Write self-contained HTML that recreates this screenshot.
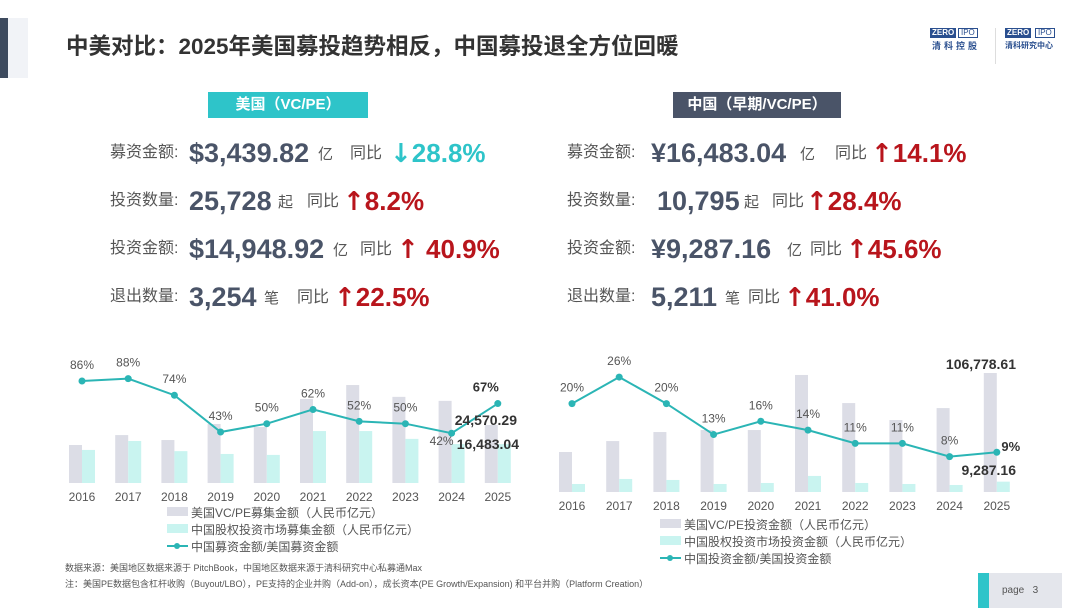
<!DOCTYPE html>
<html><head><meta charset="utf-8">
<style>
body{margin:0;background:#fff;}
#root{position:relative;width:1080px;height:608px;overflow:hidden;background:#fff;font-family:"Liberation Sans","Noto Sans CJK SC",sans-serif;}
.a{position:absolute;white-space:nowrap;line-height:1;}
.lbl{font-size:16px;color:#555;}
.num{font-size:27px;font-weight:bold;color:#4a5468;}
.unit{font-size:15px;color:#555;}
.yoy{font-size:16px;color:#555;}
.up{font-size:26px;font-weight:bold;color:#b8151c;}
.dn{font-size:26px;font-weight:bold;color:#2ec4c9;}
.ar{font-family:"DejaVu Sans",sans-serif;font-weight:bold;}
</style></head><body>
<div id="root">
<div class="a" style="left:0;top:18px;width:8px;height:60px;background:#3d4a5e"></div>
<div class="a" style="left:8px;top:18px;width:20px;height:60px;background:#f1f3f7"></div>
<div class="a" style="left:66px;top:36px;font-size:22.5px;font-weight:bold;color:#333">中美对比：2025年美国募投趋势相反，中国募投退全方位回暖</div>
<div class="a" style="left:930px;top:28px;width:52px;height:38px">
 <div class="a" style="left:0;top:0;background:#2a4f8f;color:#fff;font-size:8px;font-weight:bold;padding:1px 2px">ZERO</div>
 <div class="a" style="left:28px;top:0;border:1px solid #2a4f8f;color:#2a4f8f;font-size:8px;padding:0 2px">IPO</div>
 <div class="a" style="left:2px;top:14px;font-size:9px;font-weight:bold;color:#2a4f8f;letter-spacing:3px">清科控股</div>
</div>
<div class="a" style="left:995px;top:28px;width:1px;height:36px;background:#ddd"></div>
<div class="a" style="left:1005px;top:28px;width:60px;height:38px">
 <div class="a" style="left:0;top:0;background:#2a4f8f;color:#fff;font-size:8px;font-weight:bold;padding:1px 2px">ZERO</div>
 <div class="a" style="left:30px;top:0;border:1px solid #2a4f8f;color:#2a4f8f;font-size:8px;padding:0 2px">IPO</div>
 <div class="a" style="left:0;top:14px;font-size:8px;font-weight:bold;color:#2a4f8f">清科研究中心</div>
</div>

<div class="a" style="left:208px;top:92px;width:160px;height:26px;background:#2ec4c9;color:#fff;font-size:15px;font-weight:bold;line-height:26px;text-align:center">美国（VC/PE）</div>
<div class="a" style="left:673px;top:92px;width:168px;height:26px;background:#4a5468;color:#fff;font-size:15px;font-weight:bold;line-height:26px;text-align:center">中国（早期/VC/PE）</div>

<!-- US stats -->
<div>
<span class="a lbl" style="left:110px;top:145px">募资金额:</span><span class="a num" style="left:189px;top:140px">$3,439.82</span><span class="a unit" style="left:318px;top:147px">亿</span><span class="a yoy" style="left:350px;top:146px">同比</span><span class="a dn" style="left:390px;top:140px"><span class="ar">↓</span>28.8%</span></div>
<div>
<span class="a lbl" style="left:110px;top:193px">投资数量:</span><span class="a num" style="left:189px;top:188px">25,728</span><span class="a unit" style="left:278px;top:195px">起</span><span class="a yoy" style="left:307px;top:194px">同比</span><span class="a up" style="left:343px;top:188px"><span class="ar">↑</span>8.2%</span></div>
<div>
<span class="a lbl" style="left:110px;top:241px">投资金额:</span><span class="a num" style="left:189px;top:236px">$14,948.92</span><span class="a unit" style="left:333px;top:243px">亿</span><span class="a yoy" style="left:360px;top:242px">同比</span><span class="a up" style="left:397px;top:236px"><span class="ar">↑</span> 40.9%</span></div>
<div>
<span class="a lbl" style="left:110px;top:289px">退出数量:</span><span class="a num" style="left:189px;top:284px">3,254</span><span class="a unit" style="left:264px;top:291px">笔</span><span class="a yoy" style="left:297px;top:290px">同比</span><span class="a up" style="left:334px;top:284px"><span class="ar">↑</span>22.5%</span></div>

<!-- China stats -->
<div>
<span class="a lbl" style="left:567px;top:145px">募资金额:</span><span class="a num" style="left:651px;top:140px">¥16,483.04</span><span class="a unit" style="left:800px;top:147px">亿</span><span class="a yoy" style="left:835px;top:146px">同比</span><span class="a up" style="left:871px;top:140px"><span class="ar">↑</span>14.1%</span></div>
<div>
<span class="a lbl" style="left:567px;top:193px">投资数量:</span><span class="a num" style="left:657px;top:188px">10,795</span><span class="a unit" style="left:744px;top:195px">起</span><span class="a yoy" style="left:772px;top:194px">同比</span><span class="a up" style="left:806px;top:188px"><span class="ar">↑</span>28.4%</span></div>
<div>
<span class="a lbl" style="left:567px;top:241px">投资金额:</span><span class="a num" style="left:651px;top:236px">¥9,287.16</span><span class="a unit" style="left:787px;top:243px">亿</span><span class="a yoy" style="left:810px;top:242px">同比</span><span class="a up" style="left:846px;top:236px"><span class="ar">↑</span>45.6%</span></div>
<div>
<span class="a lbl" style="left:567px;top:289px">退出数量:</span><span class="a num" style="left:651px;top:284px">5,211</span><span class="a unit" style="left:725px;top:291px">笔</span><span class="a yoy" style="left:748px;top:290px">同比</span><span class="a up" style="left:784px;top:284px"><span class="ar">↑</span>41.0%</span></div>

<svg id="charts" class="a" style="left:0;top:0" width="1080" height="608"></svg>

<div class="a" style="left:65px;top:564px;font-size:9px;color:#555">数据来源：美国地区数据来源于 PitchBook，中国地区数据来源于清科研究中心私募通Max</div>
<div class="a" style="left:65px;top:580px;font-size:9px;color:#555">注：美国PE数据包含杠杆收购（Buyout/LBO），PE支持的企业并购（Add-on），成长资本(PE Growth/Expansion) 和平台并购（Platform Creation）</div>
<div class="a" style="left:978px;top:573px;width:84px;height:35px;background:#e4e6ec">
 <div class="a" style="left:0;top:0;width:11px;height:35px;background:#2ec4c9"></div>
 <div class="a" style="left:24px;top:13px;font-size:10px;color:#555">page &nbsp; 3</div>
</div>
</div>
<script>
const years=["2016","2017","2018","2019","2020","2021","2022","2023","2024","2025"];
const usFund=[16100,20300,18200,25000,23700,35600,41500,36500,34800,24570.29];
const cnFund=[14000,17800,13500,12300,11900,22000,22000,18700,16500,16483.04];
const fundRatio=[86,88,74,43,50,62,52,50,42,67];
const usInv=[35900,45700,53800,55600,55600,105000,79800,64600,75300,106778.61];
const cnInv=[7200,11700,10800,7200,8100,14400,8100,7200,6300,9287.16];
const invRatio=[20,26,20,13,16,14,11,11,8,9];

const NS="http://www.w3.org/2000/svg";
const svg=document.getElementById('charts');
function mk(tag,at,txt){const e=document.createElementNS(NS,tag);for(const k in at)e.setAttribute(k,at[k]);if(txt!==undefined)e.textContent=txt;svg.appendChild(e);return e;}
const F='"Liberation Sans","Noto Sans CJK SC",sans-serif';

function chart(o){
  const x=i=>o.x0+i*o.step;
  const yb=v=>o.base-v*o.barK;
  const yl=v=>o.base-v*o.lineK;
  years.forEach((yr,i)=>{
    let r=mk('rect',{x:x(i)-o.bw,y:yb(o.us[i]),width:o.bw,height:o.base-yb(o.us[i]),fill:'#dcdde6'});
    
    
    r=mk('rect',{x:x(i),y:yb(o.cn[i]),width:o.bw,height:o.base-yb(o.cn[i]),fill:'#c9f4f0'});
    
    
    const t=mk('text',{x:x(i),y:o.base+18,'text-anchor':'middle','font-size':12,fill:'#555','font-family':F},yr);
    
    
  });
  const p=mk('polyline',{points:o.ratio.map((v,i)=>x(i)+','+yl(v)).join(' '),fill:'none',stroke:'#2bb5b5','stroke-width':2});
  
  
  o.ratio.forEach((v,i)=>{
    const c=mk('circle',{cx:x(i),cy:yl(v),r:3.5,fill:'#2bb5b5'});
    
    
    const last=i===o.ratio.length-1;
    const dy=o.lblDy[i];
    const t=mk('text',{x:x(i)+(o.lblDx[i]||0),y:yl(v)+dy,'text-anchor':'middle','font-size':last?13:12,'font-weight':last?'bold':'normal',fill:last?'#333':'#555','font-family':F},v+'%');
    
    
  });
  o.extra.forEach(e=>{
    const t=mk('text',{x:e[0],y:e[1],'font-size':14,'font-weight':'bold',fill:'#333','text-anchor':'end','font-family':F},e[2]);
    
    
  });
  const L=o.leg;
  let r=mk('rect',{x:L.x,y:L.y-6,width:21,height:9,fill:'#dcdde6'});
  
  r=mk('rect',{x:L.x,y:L.y+L.dy-6,width:21,height:9,fill:'#c9f4f0'});
  
  let ln=mk('line',{x1:L.x,x2:L.x+21,y1:L.y+2*L.dy-1,y2:L.y+2*L.dy-1,stroke:'#2bb5b5','stroke-width':2});
  
  let c=mk('circle',{cx:L.x+10,cy:L.y+2*L.dy-1,r:3,fill:'#2bb5b5'});
  
  L.t.forEach((s,k)=>{const t=mk('text',{x:L.x+24,y:L.y+k*L.dy+4,'font-size':12,fill:'#555','font-family':F},s);
    
    });
}
chart({x0:82,step:46.2,bw:13,base:483,barK:58/24570,lineK:1.186,us:usFund,cn:cnFund,ratio:fundRatio,
 lblDy:[-12,-12,-12,-12,-12,-12,-12,-12,12,-12],lblDx:[0,0,0,0,0,0,0,0,-10,-12],
 extra:[[517,425,'24,570.29','us-fund-2025-value'],[519,449,'16,483.04','cn-fund-2025-value']],
 leg:{x:167,y:513,dy:17,t:['美国VC/PE募集金额（人民币亿元）','中国股权投资市场募集金额（人民币亿元）','中国募资金额/美国募资金额']}});
chart({x0:572,step:47.2,bw:13,base:492,barK:119/106779,lineK:4.42,us:usInv,cn:cnInv,ratio:invRatio,
 lblDy:[-12,-12,-12,-12,-12,-12,-12,-12,-12,-1],lblDx:[0,0,0,0,0,0,0,0,0,14],
 extra:[[1016,369,'106,778.61','us-inv-2025-value'],[1016,475,'9,287.16','cn-inv-2025-value']],
 leg:{x:660,y:525,dy:17,t:['美国VC/PE投资金额（人民币亿元）','中国股权投资市场投资金额（人民币亿元）','中国投资金额/美国投资金额']}});
</script>
</body></html>
